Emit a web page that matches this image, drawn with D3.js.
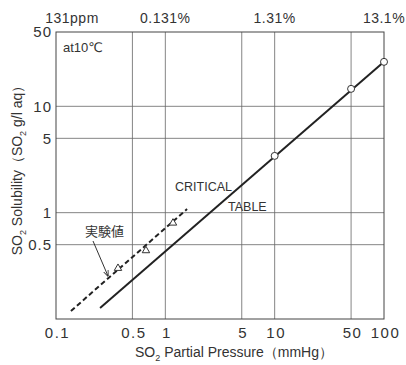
<!DOCTYPE html>
<html>
<head>
<meta charset="utf-8">
<script src="https://cdn.jsdelivr.net/npm/d3@7"></script>
<style>
  body { margin: 0; background: #fff; }
  text { font-family: "Liberation Sans", "DejaVu Sans", sans-serif; fill: #333; }
</style>
</head>
<body>
<svg id="chart" width="406" height="365"></svg>
<script>
// values
const xTicks = [0.1, 0.5, 1, 5, 10, 50, 100];
const yTicks = [0.5, 1, 5, 10, 50];
const gridX = [0.5, 1, 5, 10, 50];
const gridY = [0.5, 1, 5, 10];
const topLabels = ["131ppm", "0.131%", "1.31%", "13.1%"];
const topAt = [0.1, 1, 10, 100];

// CRITICAL TABLE line and its points
const criticalLine = [[0.253, 0.127], [100, 26.2]];
const criticalPts = [[10, 3.42], [50, 14.6], [100, 26.2]];
// measured (実験値) dashed line and points
const measuredLine = [[0.137, 0.119], [1.58, 1.08]];
const measuredPts = [[0.369, 0.30], [0.665, 0.44], [1.175, 0.80]];

const svg = d3.select('#chart');
const pLeft = 56, pRight = 384, pTop = 32, pBottom = 319;

const x = d3.scaleLog().domain([0.1, 100]).range([pLeft, pRight]);
const y = d3.scaleLog().domain([0.1, 50]).range([pBottom, pTop]);

// grid
svg.append('g').selectAll('line')
    .data(gridX)
    .enter()
    .append('line')
    .attr('x1', d => x(d)).attr('x2', d => x(d))
    .attr('y1', pTop).attr('y2', pBottom)
    .attr('stroke', '#666').attr('stroke-width', 0.8);

svg.append('g').selectAll('line')
    .data(gridY)
    .enter()
    .append('line')
    .attr('x1', pLeft).attr('x2', pRight)
    .attr('y1', d => y(d)).attr('y2', d => y(d))
    .attr('stroke', '#666').attr('stroke-width', 0.8);

// frame
svg.append('rect')
    .attr('x', pLeft).attr('y', pTop)
    .attr('width', pRight - pLeft).attr('height', pBottom - pTop)
    .attr('fill', 'none').attr('stroke', '#444').attr('stroke-width', 1);

// axes (labels only)
const xAxis = d3.axisBottom(x).tickValues(xTicks).tickFormat(d => d).tickSize(0).tickPadding(8);
svg.append('g').attr('transform', `translate(0,${pBottom})`).call(xAxis)
    .call(g => g.select('.domain').remove())
    .selectAll('text').attr('font-size', 15).attr('fill', '#333')
    .attr('letter-spacing', 1.5).attr('dx', 1)
    .style('font-family', '"Liberation Sans", sans-serif');

const yAxis = d3.axisLeft(y).tickValues(yTicks).tickFormat(d => d).tickSize(0).tickPadding(4);
svg.append('g').attr('transform', `translate(${pLeft},0)`).call(yAxis)
    .call(g => g.select('.domain').remove())
    .selectAll('text').attr('font-size', 15).attr('fill', '#333')
    .attr('letter-spacing', 1)
    .style('font-family', '"Liberation Sans", sans-serif');

// top concentration labels
svg.selectAll('.toplab')
    .data(topLabels)
    .enter()
    .append('text')
    .attr('class', 'toplab')
    .attr('x', (d, i) => i === 0 ? x(topAt[i]) + 16 : x(topAt[i]))
    .attr('y', 23)
    .attr('text-anchor', 'middle')
    .attr('font-size', 14)
    .attr('letter-spacing', 0.5)
    .text(d => d);

const line = d3.line().x(d => x(d[0])).y(d => y(d[1]));

svg.append('path')
    .attr('d', line(criticalLine))
    .attr('stroke', '#222').attr('stroke-width', 2).attr('fill', 'none');

svg.append('path')
    .attr('d', line(measuredLine))
    .attr('stroke', '#222').attr('stroke-width', 2).attr('fill', 'none')
    .attr('stroke-dasharray', '5,3');

svg.selectAll('.cpt')
    .data(criticalPts)
    .enter()
    .append('circle')
    .attr('class', 'cpt')
    .attr('cx', d => x(d[0])).attr('cy', d => y(d[1]))
    .attr('r', 3.5)
    .attr('fill', '#fff').attr('stroke', '#333').attr('stroke-width', 1);

svg.selectAll('.mpt')
    .data(measuredPts)
    .enter()
    .append('path')
    .attr('class', 'mpt')
    .attr('transform', d => `translate(${x(d[0])},${y(d[1])})`)
    .attr('d', d3.symbol(d3.symbolTriangle, 24))
    .attr('fill', '#fff').attr('stroke', '#333').attr('stroke-width', 1);

// annotations
svg.append('text').attr('x', 63).attr('y', 52).attr('font-size', 13).text('at10℃');

svg.append('text').attr('x', 175).attr('y', 191).attr('font-size', 12.5).text('CRITICAL');
svg.append('text').attr('x', 228).attr('y', 211).attr('font-size', 12.5).text('TABLE');

svg.append('text').attr('x', 85).attr('y', 236).attr('font-size', 13)
    .style('font-family', '"Noto Sans CJK JP", sans-serif')
    .text('実験値');

svg.append('defs').append('marker')
    .attr('id', 'arrow')
    .attr('viewBox', '0 0 10 10')
    .attr('refX', 9).attr('refY', 5)
    .attr('markerWidth', 6).attr('markerHeight', 6)
    .attr('orient', 'auto')
    .append('path').attr('d', 'M0,1 L10,5 L0,9').attr('fill', 'none').attr('stroke', '#333').attr('stroke-width', 1.5);

svg.append('line')
    .attr('x1', 93).attr('y1', 241).attr('x2', 108).attr('y2', 276)
    .attr('stroke', '#333').attr('stroke-width', 1)
    .attr('marker-end', 'url(#arrow)');

// axis titles
const xt = svg.append('text').attr('x', 234).attr('y', 357).attr('text-anchor', 'middle').attr('font-size', 14);
xt.append('tspan').text('SO');
xt.append('tspan').attr('font-size', 9).attr('dy', 4).text('2');
xt.append('tspan').attr('dy', -4).text(' Partial Pressure（mmHg）');

const yt = svg.append('text').attr('transform', 'translate(22,167) rotate(-90)')
    .attr('text-anchor', 'middle').attr('font-size', 14);
yt.append('tspan').text('SO');
yt.append('tspan').attr('font-size', 9).attr('dy', 4).text('2');
yt.append('tspan').attr('dy', -4).text(' Solubility（SO');
yt.append('tspan').attr('font-size', 9).attr('dy', 4).text('2');
yt.append('tspan').attr('dy', -4).text(' g/l aq）');
</script>
</body>
</html>
